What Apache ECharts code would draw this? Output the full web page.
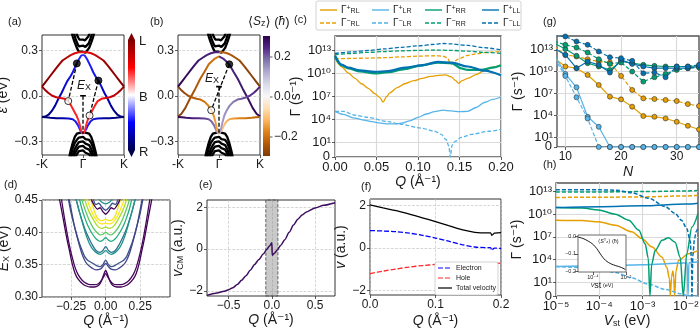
<!DOCTYPE html>
<html>
<head>
<meta charset="utf-8">
<title>Exciton bands and scattering rates</title>
<script src="https://cdn.jsdelivr.net/npm/echarts@6/dist/echarts.min.js"></script>
</head>
<body style="margin:0">
<div id="chart" style="width:700px;height:330px"></div>
<script>
// ---------- data ----------
// (a),(b): bands, eps (eV) vs k (units of K); only k >= 0 is stored, bands are symmetric
var cbHalf1 = [[0,0.29],[0.06,0.283],[0.1,0.29],[0.15,0.315],[0.2,0.35],[0.25,0.39],[0.29,0.43]];
var cbHalf2 = [[0,0.33],[0.06,0.322],[0.1,0.325],[0.14,0.345],[0.18,0.375],[0.22,0.41],[0.24,0.43]];
var cbHalf3 = [[0,0.37],[0.05,0.365],[0.09,0.37],[0.13,0.39],[0.17,0.42],[0.19,0.44]];
var vbHalf1 = [[0,-0.24],[0.08,-0.245],[0.15,-0.25],[0.2,-0.27],[0.25,-0.31],[0.3,-0.36],[0.34,-0.41]];
var vbHalf2 = [[0,-0.27],[0.06,-0.285],[0.1,-0.275],[0.15,-0.29],[0.2,-0.31],[0.25,-0.345],[0.3,-0.4],[0.31,-0.41]];
var vbHalf3 = [[0,-0.3],[0.06,-0.315],[0.1,-0.305],[0.15,-0.325],[0.2,-0.35],[0.25,-0.39],[0.27,-0.41]];
var vbHalf4 = [[0,-0.33],[0.06,-0.345],[0.1,-0.335],[0.15,-0.355],[0.2,-0.38],[0.23,-0.41]];
var vbHalf5 = [[0,-0.36],[0.06,-0.375],[0.1,-0.365],[0.15,-0.385],[0.19,-0.41]];
var band1 = [[0,0.287],[0.1,0.287],[0.2,0.28],[0.3,0.268],[0.4,0.25],[0.5,0.232],[0.6,0.2],[0.7,0.165],[0.8,0.13],[0.9,0.095],[1,0.06]];
var band2 = [[0,-0.25],[0.04,-0.235],[0.08,-0.19],[0.12,-0.155],[0.16,-0.13],[0.22,-0.1],[0.3,-0.06],[0.36,-0.035],[0.45,-0.02],[0.55,-0.015],[0.65,-0.01],[0.75,0.0],[0.85,0.02],[0.93,0.04],[1,0.06]];
var band3 = [[0,0.27],[0.05,0.262],[0.1,0.24],[0.15,0.213],[0.2,0.185],[0.25,0.155],[0.3,0.13],[0.376,0.1],[0.45,0.06],[0.52,0.02],[0.6,-0.02],[0.68,-0.065],[0.76,-0.1],[0.84,-0.125],[0.92,-0.137],[1,-0.14]];
var band4 = [[0,-0.25],[0.04,-0.24],[0.08,-0.22],[0.12,-0.195],[0.18,-0.17],[0.25,-0.155],[0.35,-0.15],[0.5,-0.148],[0.65,-0.148],[0.8,-0.145],[0.9,-0.142],[1,-0.14]];
var band2b = [[0,-0.25],[0.04,-0.23],[0.08,-0.18],[0.13,-0.13],[0.19,-0.095],[0.26,-0.065],[0.35,-0.04],[0.45,-0.025],[0.55,-0.02],[0.65,-0.012],[0.75,0.0],[0.85,0.02],[0.93,0.04],[1,0.06]];
var band3b = [[0,0.26],[0.1,0.245],[0.2,0.22],[0.25,0.207],[0.35,0.16],[0.46,0.11],[0.58,0.045],[0.71,-0.02],[0.82,-0.08],[0.92,-0.12],[1,-0.135]];
var aHoles = [[-0.36,-0.035],[0.16,-0.13]];
var aElectrons = [[-0.15,0.213],[0.376,0.1]];
var bHoles = [[-0.19,-0.095]];
var bElectrons = [[0.25,0.207]];

// (c): log10 of rate vs Q (1/A); ZERO marks a rate of exactly 0
var ZERO = -1;
var cRLp = [[0,12.2],[0.004,11.2],[0.008,10.8],[0.016,10.0],[0.024,9.3],[0.032,8.6],[0.04,8.0],[0.048,7.3],[0.054,6.8],[0.058,6.2],[0.062,6.9],[0.066,7.4],[0.075,8.1],[0.084,8.6],[0.095,9.0],[0.105,9.3],[0.115,9.55],[0.125,9.7],[0.133,9.75],[0.14,9.5],[0.145,9.05],[0.149,8.65],[0.153,9.0],[0.16,9.3],[0.17,9.8],[0.18,10.3],[0.19,10.75],[0.2,11.05]];
var cRLm = [[0,11.85],[0.02,11.9],[0.04,11.95],[0.06,12.0],[0.08,12.1],[0.1,12.2],[0.12,12.25],[0.13,12.2],[0.135,12.0],[0.14,11.1],[0.143,11.5],[0.15,11.9],[0.16,12.3],[0.17,12.5],[0.18,12.65],[0.19,12.75],[0.2,12.8]];
var cLRp = [[0,5.0],[0.01,4.6],[0.024,4.1],[0.035,3.85],[0.044,3.65],[0.055,3.45],[0.064,3.35],[0.072,3.35],[0.08,3.45],[0.09,3.75],[0.1,4.2],[0.11,4.65],[0.12,4.95],[0.13,5.15],[0.14,5.05],[0.15,4.95],[0.16,5.0],[0.17,5.5],[0.18,6.15],[0.19,6.55],[0.2,6.9]];
var cLRm = [[0,5.0],[0.01,5.0],[0.024,4.5],[0.04,4.2],[0.064,3.65],[0.08,3.3],[0.104,2.8],[0.12,2.4],[0.128,2.0],[0.134,1.3],[0.137,0.5],[0.139,ZERO],[0.141,0.6],[0.145,1.1],[0.152,1.6],[0.165,2.0],[0.185,2.4],[0.2,2.65]];
var cRRp = [[0,12.1],[0.008,11.0],[0.016,10.6],[0.03,10.2],[0.048,9.95],[0.064,10.1],[0.084,10.5],[0.104,11.0],[0.124,11.35],[0.14,11.3],[0.152,10.6],[0.16,10.4],[0.176,10.4],[0.19,10.7],[0.2,11.0]];
var cRRm = [[0,12.4],[0.02,12.55],[0.04,12.7],[0.06,12.8],[0.08,12.9],[0.1,12.95],[0.12,13.0],[0.14,12.95],[0.16,12.85],[0.18,12.7],[0.2,12.55]];
var cLLp = [[0,12.3],[0.008,11.1],[0.016,10.7],[0.03,10.35],[0.048,10.15],[0.064,10.25],[0.084,10.7],[0.104,11.0],[0.124,11.45],[0.14,11.35],[0.16,10.85],[0.18,10.3],[0.2,9.7]];
var cLLm = [[0,12.55],[0.02,12.75],[0.04,12.95],[0.06,13.15],[0.08,13.35],[0.1,13.55],[0.12,13.75],[0.13,13.85],[0.14,13.8],[0.16,13.6],[0.18,13.3],[0.2,13.0]];

// (g): log10 of rate vs N
var gN   = [8,10,12,14,16,18,20,22,24,26,28,30,32,34];
var gRLp = [11.85,10.7,10.47,9.54,8.16,6.55,6.18,5.17,3.88,3.78,3.55,3.09,2.54,2.03];
var gRLm = [13.46,12.3,12.08,11.7,11.39,11.25,9.4,7.47,6.32,6.23,6.09,5.95,5.53,5.26];
var gLRp = [12.3,9.68,7.84,3.78,2.4,ZERO,ZERO,ZERO,ZERO,ZERO,ZERO,ZERO,ZERO,ZERO];
var gLRm = [11.85,9.4,6.46,3.55,ZERO,ZERO,ZERO,ZERO,ZERO,ZERO,ZERO,ZERO,ZERO,ZERO];
var gRRp = [13.9,13.1,12.17,11.16,10.7,10.23,11.39,11.16,10.93,10.79,10.7,10.7,10.7,10.79];
var gRRm = [14.15,13.69,13.32,12.63,11.7,11.06,11.25,10.0,8.62,9.22,9.68,10.23,10.47,10.56];
var gLLp = [13.2,12.3,10.47,11.39,10.93,9.87,11.62,11.06,10.7,10.47,10.47,10.47,10.47,10.7];
var gLLm = [15.07,14.84,14.15,13.69,12.77,11.98,11.85,11.48,9.77,9.87,9.22,10.7,10.7,10.93];

// (h): log10 of rate vs log10 Vst (eV)
var hRLp = [[-5,9.2],[-4.4,9.15],[-4.02,9.0],[-3.63,8.55],[-3.25,7.67],[-3.02,6.8],[-2.78,5.67],[-2.55,4.33],[-2.44,3.0],[-2.38,1.5],[-2.36,ZERO],[-2.33,1.8],[-2.3,2.5],[-2.28,1.6],[-2.26,ZERO],[-2.23,2.5],[-2.17,3.9],[-1.94,4.8],[-1.72,5.2]];
var hRLm = [[-5,12.2],[-4,12.22],[-3,12.27],[-2,12.4],[-1.72,12.47]];
var hLRp = [[-5,3.1],[-4,3.2],[-3,3.35],[-2.05,3.55],[-1.97,3.55],[-1.95,ZERO],[-1.93,3.6],[-1.72,3.7]];
var hLRm = [[-5,3.1],[-4.02,2.9],[-3.63,2.33],[-3.25,1.58],[-2.86,0.78],[-2.48,0.1],[-2.1,-0.5],[-1.95,ZERO],[-1.72,ZERO]];
var hRRp = [[-5,10.87],[-4.4,10.8],[-4.02,10.56],[-3.63,10.0],[-3.32,9.2],[-3.09,7.9],[-2.94,6.1],[-2.87,4.2],[-2.83,ZERO],[-2.79,3.4],[-2.71,5.2],[-2.55,6.55],[-2.4,6.9],[-2.25,6.3],[-2.13,4.3],[-2.06,ZERO],[-1.98,4.8],[-1.86,8.3],[-1.72,10.1]];
var hRRm = [[-5,12.9],[-4,12.92],[-3,12.97],[-2,13.05],[-1.72,13.1]];
var hLLp = [[-5,10.87],[-4,10.98],[-3,11.1],[-2,11.32],[-1.72,11.44]];
var hLLm = [[-5,13.2],[-4,13.2],[-3.6,13.15],[-3.25,12.8],[-2.86,12.1],[-2.48,11.0],[-2.25,10.1],[-2.1,9.2],[-1.98,8.1],[-1.9,6.5],[-1.87,4.0],[-1.86,ZERO],[-1.84,4.5],[-1.8,6.8],[-1.76,7.7],[-1.72,8.3]];
// inset of (h): <Sz^T> vs log10 Vst
var insetV = [-4.88,-4.6,-4.26,-4.05,-3.86,-3.7,-3.55,-3.4,-3.24,-3.05,-2.85,-2.65,-2.45,-2.25,-2.04];
var insetS = [-0.003,-0.01,-0.027,-0.04,-0.058,-0.078,-0.1,-0.12,-0.137,-0.15,-0.16,-0.167,-0.173,-0.18,-0.19];

// (d): exciton bands E_X (eV) vs Q, k >= 0 half
var dHalf1 = [[0,0.341],[0.015,0.334],[0.03,0.325],[0.05,0.318],[0.08,0.3155],[0.11,0.3155],[0.14,0.317],[0.17,0.321],[0.2,0.328],[0.22,0.336],[0.24,0.35],[0.26,0.37],[0.28,0.39],[0.3,0.413],[0.32,0.436],[0.34,0.458]];
var dHalf2 = [[0,0.336],[0.015,0.331],[0.03,0.326],[0.05,0.321],[0.08,0.319],[0.11,0.319],[0.14,0.321],[0.17,0.326],[0.2,0.335],[0.22,0.345],[0.24,0.36],[0.26,0.378],[0.28,0.4],[0.3,0.425],[0.32,0.452]];
var dHalf3 = [[0,0.357],[0.02,0.35],[0.04,0.347],[0.07,0.349],[0.1,0.353],[0.13,0.357],[0.15,0.362],[0.17,0.372],[0.19,0.383],[0.21,0.397],[0.23,0.413],[0.25,0.43],[0.27,0.452]];
var dHalf4 = [[0,0.352],[0.02,0.347],[0.04,0.343],[0.07,0.342],[0.1,0.345],[0.13,0.35],[0.15,0.356],[0.17,0.366],[0.19,0.38],[0.21,0.396],[0.23,0.414],[0.25,0.436],[0.265,0.452]];
var dHalf5 = [[0,0.378],[0.02,0.372],[0.04,0.369],[0.07,0.372],[0.1,0.382],[0.13,0.395],[0.15,0.405],[0.17,0.418],[0.19,0.432],[0.21,0.448],[0.22,0.456]];
var dHalf6 = [[0,0.372],[0.02,0.368],[0.04,0.366],[0.07,0.369],[0.1,0.376],[0.12,0.384],[0.14,0.395],[0.16,0.409],[0.18,0.424],[0.2,0.44],[0.215,0.453]];
var dHalf7 = [[0,0.392],[0.02,0.388],[0.04,0.386],[0.07,0.39],[0.1,0.399],[0.13,0.411],[0.15,0.422],[0.17,0.435],[0.19,0.452]];
var dHalf8 = [[0,0.4],[0.02,0.397],[0.04,0.396],[0.06,0.399],[0.09,0.407],[0.12,0.419],[0.14,0.43],[0.16,0.442],[0.175,0.453]];
var dHalf9 = [[0,0.408],[0.03,0.406],[0.06,0.41],[0.09,0.42],[0.12,0.432],[0.14,0.443],[0.155,0.453]];
var dHalf10 = [[0,0.414],[0.03,0.413],[0.06,0.417],[0.09,0.427],[0.11,0.437],[0.13,0.448],[0.14,0.455]];
var dHalf11 = [[0,0.42],[0.03,0.418],[0.06,0.422],[0.08,0.432],[0.1,0.445],[0.11,0.453]];
var dHalf12 = [[0,0.428],[0.02,0.432],[0.04,0.438],[0.06,0.436],[0.08,0.441],[0.1,0.449],[0.11,0.454]];
var dHalf13 = [[0,0.434],[0.03,0.44],[0.05,0.445],[0.07,0.443],[0.09,0.452]];
var dHalf14 = [[0,0.444],[0.03,0.447],[0.05,0.452]];

// (e): centre of mass velocity vs Q
var eQ = [-0.75,-0.65,-0.55,-0.5,-0.45,-0.4,-0.35,-0.3,-0.25,-0.2,-0.15,-0.1,-0.06,-0.03,0.0,0.004,0.03,0.06,0.1,0.15,0.2,0.25,0.3,0.35,0.4,0.5,0.6,0.73];
var eV = [-2.22,-2.12,-2.02,-1.95,-1.85,-1.7,-1.5,-1.28,-1.02,-0.74,-0.5,-0.24,-0.02,0.13,0.3,-0.3,-0.2,-0.06,0.17,0.45,0.8,1.15,1.43,1.63,1.78,1.97,2.1,2.22];

// (f): velocities vs Q
var fQ = [0,0.02,0.04,0.06,0.08,0.1,0.12,0.14,0.16,0.18,0.184,0.186,0.19,0.2];
var fElectron = [0.82,0.8,0.77,0.7,0.6,0.47,0.32,0.16,0.05,0.02,0.02,-0.1,0.0,-0.02];
var fHole = [-1.2,-1.08,-0.98,-0.89,-0.82,-0.77,-0.73,-0.7,-0.69,-0.69,-0.69,-0.69,-0.7,-0.72];
var fTotal = [2.02,1.88,1.75,1.59,1.42,1.24,1.05,0.86,0.74,0.71,0.71,0.6,0.7,0.72];

// legend texts
var cLegendRows = [
    ['Γ{sp|+}{sb|RL}', 'Γ{sp|−}{sb|RL}'], ['Γ{sp|+}{sb|LR}', 'Γ{sp|−}{sb|LR}'],
    ['Γ{sp|+}{sb|RR}', 'Γ{sp|−}{sb|RR}'], ['Γ{sp|+}{sb|LL}', 'Γ{sp|−}{sb|LL}']
];
var fLegendNames = ['Electron', 'Hole', 'Total velocity'];

// ---------- helpers ----------
var FONT = "'Liberation Sans', 'DejaVu Sans', sans-serif";
var TXT = '#1a1a1a';
var ORANGE = '#e69f00', SKY = '#56b4e9', GREEN = '#009e73', BLUE = '#0072b2';
var C_FLOOR = -0.96, G_FLOOR = -0.38, H_FLOOR = -0.78;
var SUP = {'0':'⁰','1':'¹','2':'²','3':'³','4':'⁴','5':'⁵','6':'⁶','7':'⁷','8':'⁸','9':'⁹','-':'⁻'};
var RICH = {
    i: {fontStyle: 'italic', fontFamily: FONT},
    sb: {fontSize: 9, verticalAlign: 'bottom', fontFamily: FONT},
    sp: {fontSize: 8, verticalAlign: 'top', fontFamily: FONT}
};

function pow10(v) { return '10' + String(Math.round(v)).split('').map(function (c) { return SUP[c]; }).join(''); }
function symFmt(v) { return v < 0 ? '0' : pow10(v); }
function num(d) { return function (v) { return (v < -1e-9 ? '−' : '') + Math.abs(v).toFixed(d); }; }
function mirror(half) {
    return half.slice(1).reverse().map(function (p) { return [-p[0], p[1]]; }).concat(half);
}
function leftHalf(half) { return half.slice().reverse().map(function (p) { return [-p[0], p[1]]; }); }
function floorIt(pairs, floor) { return pairs.map(function (p) { return [p[0], p[1] === ZERO ? floor : p[1]]; }); }
function zip(xs, ys) { return xs.map(function (x, i) { return [x, ys[i]]; }); }
function grad(stops) {
    return new echarts.graphic.LinearGradient(0, 0, 1, 0, stops.map(function (s) { return {offset: s[0], color: s[1]}; }));
}
function flip(stops) { return stops.map(function (s) { return [1 - s[0], s[1]]; }).reverse(); }

function axis(gi, p) {
    var a = {
        gridIndex: gi, type: 'value', min: p.min, max: p.max,
        axisLine: {show: false, onZero: false},
        axisTick: {show: true, length: 3, lineStyle: {color: '#333', width: 0.8}},
        axisLabel: {fontSize: p.fs || 12, color: TXT, fontFamily: FONT, margin: p.margin || 4, formatter: p.fmt,
            showMinLabel: true, showMaxLabel: true, hideOverlap: false},
        splitLine: {show: !!p.grid, lineStyle: p.grid === 'solid' ? {color: '#dadada', width: 1.2} : {color: '#c4c4c4', width: 0.7, type: 'dashed'}}
    };
    if (p.custom) { a.axisTick.customValues = p.custom; a.axisLabel.customValues = p.labels || p.custom; }
    if (p.name) {
        a.name = p.name; a.nameLocation = 'middle'; a.nameGap = p.gap;
        a.nameTextStyle = {fontSize: p.nfs || 14, color: TXT, fontFamily: FONT, rich: RICH};
    }
    if (p.z) a.z = p.z;
    return a;
}

function ln(ax, data, color, width, type, extra) {
    var s = {type: 'line', xAxisIndex: ax, yAxisIndex: ax, data: data, symbol: 'none', silent: true,
        itemStyle: {color: typeof color === 'string' ? color : '#000'},
        lineStyle: {color: color, width: width, type: type || 'solid'}};
    for (var k in (extra || {})) s[k] = extra[k];
    return s;
}
function band(ax, half, stopsL, stopsR) {
    return [ln(ax, leftHalf(half), grad(stopsL), 2), ln(ax, half, grad(stopsR), 2)];
}
function dots(ax, data, fill) {
    return {type: 'scatter', xAxisIndex: ax, yAxisIndex: ax, data: data, symbolSize: 7, silent: true, z: 5,
        itemStyle: {color: fill, borderColor: '#000', borderWidth: 1}};
}

// ---------- grids ----------
var grids = [
    {left: 42, top: 35, width: 82, height: 120},   // a
    {left: 178, top: 35, width: 82, height: 120},  // b
    {left: 335, top: 36, width: 166, height: 121, borderColor: '#555', borderWidth: 1.4}, // c
    {left: 557, top: 36, width: 142, height: 111, borderColor: '#555', borderWidth: 1.4}, // g
    {left: 42, top: 200, width: 128, height: 97},  // d
    {left: 207, top: 200, width: 128, height: 96}, // e
    {left: 370, top: 199, width: 131, height: 96}, // f
    {left: 556, top: 183, width: 142, height: 113, borderColor: '#555', borderWidth: 1.4},// h
    {left: 578, top: 235, width: 48, height: 37, show: false} // inset
].map(function (g) {
    var o = {show: true, borderColor: '#333', borderWidth: 1, containLabel: false, outerBoundsMode: 'none'};
    for (var k in g) o[k] = g[k];
    return o;
});

var kFmt = function (v) { return v < 0 ? '-K' : (v > 0 ? 'K' : 'Γ'); };
var QNAME = '{i|Q} (Å⁻¹)';
var xAxes = [
    axis(0, {min: -1, max: 1, custom: [-1, 0, 1], fmt: kFmt}),
    axis(1, {min: -1, max: 1, custom: [-1, 0, 1], fmt: kFmt}),
    axis(2, {min: 0, max: 0.2, custom: [0, 0.05, 0.1, 0.15, 0.2], fmt: num(2), fs: 13, grid: 'solid', name: QNAME, gap: 15}),
    axis(3, {min: 8.5, max: 34, custom: [10, 20, 30], fmt: function (v) { return String(v); }, grid: 'solid', name: '{i|N}', gap: 18}),
    axis(4, {min: -0.46, max: 0.465, custom: [-0.25, 0, 0.25], fmt: num(2), grid: 'dash', name: QNAME, gap: 15}),
    axis(5, {min: -0.75, max: 0.73, custom: [-0.5, 0, 0.5], fmt: num(1), grid: 'dash', name: QNAME, gap: 15}),
    axis(6, {min: 0, max: 0.2, custom: [0, 0.1, 0.2], fmt: num(1), grid: 'dash', name: QNAME, gap: 19}),
    axis(7, {min: -5, max: -1.72, custom: [-5, -4, -3, -2], fmt: pow10, fs: 13, grid: 'solid', name: '{i|V}{sb|st} (eV)', gap: 17}),
    axis(8, {min: -4.9, max: -2, custom: [-4, -2], fmt: pow10, fs: 5.5, margin: 2, name: '{i|V}{sb|st} (eV)', gap: 6, nfs: 5.5, z: 20})
];
var yAxes = [
    axis(0, {min: -0.39, max: 0.4, custom: [-0.3, 0, 0.3], fmt: num(1), grid: 'dash', name: '{i|ε} (eV)', gap: 20}),
    axis(1, {min: -0.39, max: 0.4, custom: [-0.3, 0, 0.3], fmt: num(1), grid: 'dash'}),
    axis(2, {min: C_FLOOR, max: 14.83, custom: [C_FLOOR, 1, 4, 7, 10, 13], labels: [1, 4, 7, 10, 13], fmt: symFmt, fs: 13, grid: 'solid', name: 'Γ (s⁻¹)', gap: 26}),
    axis(3, {min: G_FLOOR, max: 14.9, custom: [G_FLOOR, 1, 4, 7, 10, 13], labels: [1, 4, 7, 10, 13], fmt: symFmt, fs: 13, grid: 'solid', name: 'Γ (s⁻¹)', gap: 25}),
    axis(4, {min: 0.3, max: 0.45, custom: [0.3, 0.35, 0.4, 0.45], fmt: num(2), grid: 'dash', name: '{i|E}{sb|X} (eV)', gap: 27}),
    axis(5, {min: -2.25, max: 2.35, custom: [-2, 0, 2], fmt: num(0), grid: 'dash', name: '{i|v}{sb|CM} (a.u.)', gap: 18}),
    axis(6, {min: -2.2, max: 2.3, custom: [-2, 0, 2], fmt: num(0), grid: 'dash', name: '{i|v} (a.u.)', gap: 18}),
    axis(7, {min: H_FLOOR, max: 14.1, custom: [H_FLOOR, 1, 4, 7, 10, 13], fmt: symFmt, fs: 13, grid: 'solid', name: 'Γ (s⁻¹)', gap: 25}),
    axis(8, {min: -0.205, max: 0.01, custom: [-0.2, -0.1, 0], fmt: num(1), fs: 5.5, margin: 2, z: 20})
];

// ---------- series ----------
var series = [];
function push(list) { series = series.concat(list); }

// (a) and (b): black continuum bands
[0, 1].forEach(function (ax) {
    [cbHalf1, cbHalf2, cbHalf3, vbHalf1, vbHalf2, vbHalf3, vbHalf4, vbHalf5].forEach(function (h) {
        push([ln(ax, mirror(h), '#000', 2.3)]);
    });
});
// (a) coloured bands, L/R polarisation
var darkRed = [[0, '#7a0000'], [0.5, '#a30000'], [0.85, '#e81010'], [1, '#ff2020']];
var red2 = [[0, '#850000'], [0.3, '#c40000'], [0.6, '#ff1515'], [1, '#ff3535']];
var blue3 = [[0, '#00005a'], [0.4, '#0000b0'], [0.8, '#1a1aff'], [1, '#3535ff']];
var blue4 = [[0, '#000060'], [0.5, '#0000a5'], [0.85, '#2020ff'], [1, '#5050ff']];
push(band(0, band3, blue3, flip(blue3)));
push(band(0, band4, blue4, flip(blue4)));
push(band(0, band2, red2, flip(red2)));
push(band(0, band1, darkRed, flip(darkRed)));
// (b) coloured bands, spin
push(band(1, band3b, [[0, '#7f3b08'], [0.5, '#b35806'], [1, '#e08214']], [[0, '#5a2d8e'], [0.5, '#3f1f70'], [1, '#2d004b']]));
push(band(1, band4, [[0, '#2d004b'], [0.5, '#542788'], [0.85, '#8073ac'], [1, '#d8daeb']], [[0, '#fee0b6'], [0.2, '#fdb863'], [0.5, '#e08214'], [1, '#b35806']]));
push(band(1, band2b, [[0, '#7f3b08'], [0.4, '#b35806'], [0.75, '#e08214'], [1, '#fdb863']], [[0, '#b2abd2'], [0.4, '#8073ac'], [0.8, '#542788'], [1, '#3f1a6b']]));
push(band(1, band1, [[0, '#2d004b'], [0.6, '#3f1f70'], [1, '#542788']], [[0, '#c86a10'], [0.5, '#9a4a07'], [1, '#7f3b08']]));
// excitation arrows, gap marker, carriers
push([
    ln(0, [aElectrons[0], aHoles[0]], '#000', 1.3, [4, 2], {z: 4}),
    ln(0, [aElectrons[1], aHoles[1]], '#000', 1.3, [4, 2], {z: 4}),
    ln(0, [[-0.07, 0], [0.07, 0]], '#000', 1.6, 'solid', {z: 4}),
    ln(0, [[0, 0], [0, -0.25]], '#000', 1.3, [4, 2], {z: 4}),
    dots(0, aElectrons, '#000'), dots(0, aHoles, '#fff'),
    ln(1, [bElectrons[0], bHoles[0]], '#000', 1.3, [4, 2], {z: 4}),
    ln(1, [[-0.07, 0.06], [0.07, 0.06]], '#000', 1.6, 'solid', {z: 4}),
    ln(1, [[0, 0.06], [0, -0.25]], '#000', 1.3, [4, 2], {z: 4}),
    dots(1, bElectrons, '#000'), dots(1, bHoles, '#fff')
]);

// (c)
var cDefs = [
    [ORANGE, 'solid', cRLp, 1.3], [ORANGE, [4, 2], cRLm, 1.3],
    [SKY, 'solid', cLRp, 1.3], [SKY, [4, 2], cLRm, 1.3],
    [GREEN, 'solid', cRRp, 2.2], [GREEN, [4, 2], cRRm, 1.3],
    [BLUE, 'solid', cLLp, 2.2], [BLUE, [4, 2], cLLm, 1.3]
];
cDefs.forEach(function (d) {
    push([ln(2, floorIt(d[2], C_FLOOR), d[0], d[3], d[1], {smooth: 0.3, smoothMonotone: 'x'})]);
});

// (g)
[[gRLp, ORANGE, 'solid'], [gRLm, ORANGE, [4, 2]], [gLRp, SKY, 'solid'], [gLRm, SKY, [4, 2]],
 [gRRp, GREEN, 'solid'], [gRRm, GREEN, [4, 2]], [gLLp, BLUE, 'solid'], [gLLm, BLUE, [4, 2]]].forEach(function (d) {
    push([ln(3, floorIt(zip(gN, d[0]), G_FLOOR), d[1], 1.2, d[2], {
        symbol: 'circle', symbolSize: 5, showSymbol: true,
        itemStyle: {color: d[1], borderColor: '#333', borderWidth: 0.6}
    })]);
});

// (h)
[[hRLp, ORANGE, 'solid'], [hRLm, ORANGE, [4, 2]], [hLRp, SKY, 'solid'], [hLRm, SKY, [4, 2]],
 [hRRp, GREEN, 'solid'], [hRRm, GREEN, [4, 2]], [hLLp, BLUE, 'solid'], [hLLm, BLUE, [4, 2]]].forEach(function (d) {
    push([ln(7, floorIt(d[0], H_FLOOR), d[1], 1.5, d[2], {smooth: 0.3, smoothMonotone: 'x'})]);
});
push([ln(8, zip(insetV, insetS), '#000', 0.9, 'solid', {smooth: 0.4, z: 20})]);

// (d)
[[dHalf1, '#440154'], [dHalf2, '#46085c'], [dHalf3, '#3b528b'], [dHalf4, '#414487'], [dHalf5, '#2c728e'],
 [dHalf6, '#21918c'], [dHalf7, '#27ad81'], [dHalf8, '#5ec962'], [dHalf9, '#addc30'], [dHalf10, '#fde725'],
 [dHalf11, '#f0e51f'], [dHalf12, '#440154'], [dHalf13, '#3b528b'], [dHalf14, '#21918c']].forEach(function (d) {
    push([ln(4, mirror(d[0]), d[1], 1.3, 'solid', {smooth: 0.3})]);
});

// (e)
push([ln(5, zip(eQ, eV), '#3d0d5e', 1.5, 'solid', {
    smooth: 0.25, smoothMonotone: 'x',
    markArea: {silent: true, itemStyle: {color: 'rgba(135,135,135,0.45)', borderColor: '#444', borderWidth: 0.8, borderType: 'dashed'},
        data: [[{xAxis: -0.07}, {xAxis: 0.07}]]}
})]);

// (f)
var fStyles = [['#0000ff', [5, 2]], ['#ff2b2b', [5, 2]], ['#000', null]];
push([
    ln(6, zip(fQ, fElectron), fStyles[0][0], 1.3, fStyles[0][1], {smooth: 0.3}),
    ln(6, zip(fQ, fHole), fStyles[1][0], 1.3, fStyles[1][1], {smooth: 0.3}),
    ln(6, zip(fQ, fTotal), fStyles[2][0], 1.3, 'solid', {smooth: 0.3})
]);

// ---------- decorations ----------
function txt(x, y, s, size, extra) {
    var o = {type: 'text', x: x, y: y, silent: true, z: 30,
        style: {text: s, fontSize: size, fill: TXT, fontFamily: FONT, verticalAlign: 'middle', align: 'left', rich: RICH}};
    for (var k in (extra || {})) o.style[k] = extra[k];
    return o;
}
function seg(x1, y1, x2, y2, color, width, dash) {
    var st = {stroke: color, lineWidth: width};
    if (dash) st.lineDash = dash;
    return {type: 'line', shape: {x1: x1, y1: y1, x2: x2, y2: y2}, style: st, silent: true, z: 30};
}
var seismic = new echarts.graphic.LinearGradient(0, 0, 0, 1, [
    {offset: 0, color: '#800000'}, {offset: 0.25, color: '#ff0000'}, {offset: 0.5, color: '#ffffff'},
    {offset: 0.75, color: '#0000ff'}, {offset: 1, color: '#00004d'}]);
var puor = new echarts.graphic.LinearGradient(0, 0, 0, 1, [
    {offset: 0, color: '#2d004b'}, {offset: 0.1, color: '#542788'}, {offset: 0.2, color: '#8073ac'}, {offset: 0.3, color: '#b2abd2'},
    {offset: 0.4, color: '#d8daeb'}, {offset: 0.5, color: '#f7f7f7'}, {offset: 0.6, color: '#fee0b6'}, {offset: 0.7, color: '#fdb863'},
    {offset: 0.8, color: '#e08214'}, {offset: 0.9, color: '#b35806'}, {offset: 1, color: '#7f3b08'}]);

var graphics = [
    txt(8, 22, '(a)', 11), txt(150, 22, '(b)', 11), txt(294, 20, '(c)', 11), txt(543, 22, '(g)', 11),
    txt(4, 185, '(d)', 11), txt(199, 185, '(e)', 11), txt(361, 187, '(f)', 11), txt(543, 165, '(h)', 11),
    // "0" tick labels at the bottom of the symlog axes of (c) and (g)
    txt(330, 156, '0', 13, {align: 'right'}), txt(552, 146, '0', 13, {align: 'right'}),
    // colour bar of (a)
    {type: 'rect', shape: {x: 128, y: 40, width: 7, height: 110}, style: {fill: seismic}, silent: true},
    {type: 'polygon', shape: {points: [[128, 40], [135, 40], [131.5, 33]]}, style: {fill: '#800000'}, silent: true},
    {type: 'polygon', shape: {points: [[128, 150], [135, 150], [131.5, 157]]}, style: {fill: '#00004d'}, silent: true},
    txt(139, 41, 'L', 13), txt(139, 97, 'B', 13), txt(139, 152, 'R', 13),
    // colour bar of (b)
    {type: 'rect', shape: {x: 263, y: 36, width: 7, height: 120}, style: {fill: puor}, silent: true},
    seg(270, 57, 272.5, 57, '#333', 0.8), seg(270, 97, 272.5, 97, '#333', 0.8), seg(270, 137, 272.5, 137, '#333', 0.8),
    txt(274, 57, '0.2', 12), txt(274, 97, '0.0', 12), txt(274, 137, '−0.2', 12),
    txt(248, 22, '⟨{i|S}{sb|z}⟩ ({i|ħ})', 13),
    // exciton gap labels
    txt(84, 86, '{i|E}{sb|X}', 13, {align: 'center'}), txt(212, 79, '{i|E}{sb|X}', 13, {align: 'center'}),
    // legend frame of (c)
    {type: 'rect', shape: {x: 316, y: 1, width: 205, height: 29, r: 2}, style: {fill: '#fff', stroke: '#c8c8c8', lineWidth: 0.8}, silent: true, z: 1},
    // legend frame of (f)
    {type: 'rect', shape: {x: 435, y: 262, width: 63, height: 33, r: 2}, style: {fill: '#fff', stroke: '#c8c8c8', lineWidth: 0.8}, silent: true, z: 25},
    // inset of (h)
    {type: 'rect', shape: {x: 578, y: 235, width: 48, height: 37}, style: {fill: '#fff', stroke: '#444', lineWidth: 0.8}, silent: true, z: 10},
    txt(598, 241, '⟨{i|S}{sp|T}{sb|z}⟩ ({i|ħ})', 5.5, {rich: {i: {fontStyle: 'italic', fontSize: 5.5}, sb: {fontSize: 4, verticalAlign: 'bottom'}, sp: {fontSize: 4, verticalAlign: 'top'}}})
];
// legend of (c): one column per channel, solid (+) row above dashed (-) row
var cColors = [ORANGE, SKY, GREEN, BLUE];
var cCols = [320, 372, 425, 482];
cLegendRows.forEach(function (pair, i) {
    pair.forEach(function (label, r) {
        var y = 10 + r * 13;
        graphics.push(seg(cCols[i], y, cCols[i] + 17, y, cColors[i], 1.4, r ? [4, 2] : null));
        graphics.push(txt(cCols[i] + 21, y, label, 10, {rich: {sp: {fontSize: 7, verticalAlign: 'top'}, sb: {fontSize: 7, verticalAlign: 'bottom'}}}));
    });
});
// legend of (f)
fLegendNames.forEach(function (name, r) {
    var y = 268 + r * 10;
    graphics.push(seg(438, y, 452, y, fStyles[r][0], 1.2, fStyles[r][1]));
    graphics.push(txt(456, y, name, 7));
});

var chart = echarts.init(document.getElementById('chart'), null, {renderer: 'canvas'});
chart.setOption({
    animation: false,
    backgroundColor: '#fff',
    textStyle: {fontFamily: FONT},
    grid: grids,
    xAxis: xAxes,
    yAxis: yAxes,
    graphic: {elements: graphics},
    series: series
});
</script>
</body>
</html>
